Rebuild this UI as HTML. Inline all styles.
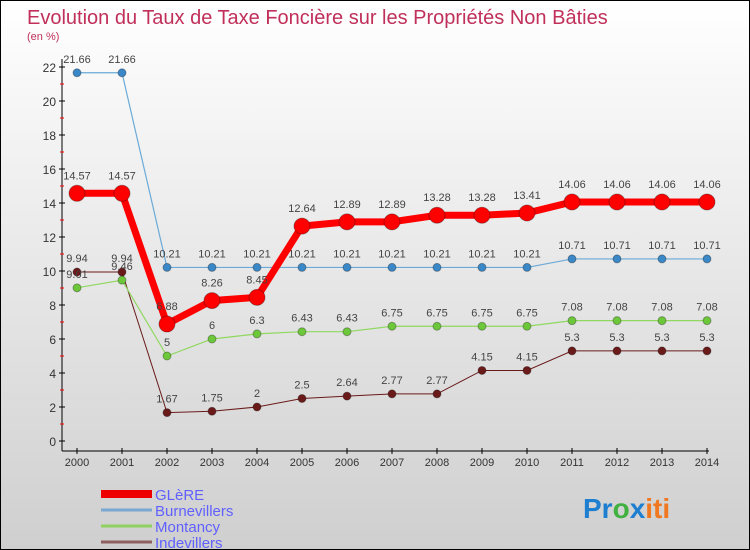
<!DOCTYPE html>
<html><head><meta charset="utf-8"><style>
body{margin:0}
#c{width:750px;height:550px;position:relative;box-sizing:border-box;border:1px solid #000;background:linear-gradient(#fff,#cfcfcf);font-family:"Liberation Sans",sans-serif;overflow:hidden}
</style></head><body>
<div id="c">
<svg width="750" height="550" id="s" style="position:absolute;left:0;top:0">
<text x="26" y="23" font-size="20" fill="#c0305a">Evolution du Taux de Taxe Foncière sur les Propriétés Non Bâties</text>
<text x="26" y="39" font-size="11" fill="#c0305a">(en %)</text>
<g id="axes"></g><g id="series"></g><g id="legend"></g>
<text x="582" y="517" font-size="28" font-weight="bold"><tspan fill="#1e7fd0">Pr</tspan><tspan fill="#40b040">o</tspan><tspan fill="#1e7fd0">x</tspan><tspan fill="#f07820">iti</tspan></text>
</svg>
</div>
<script>
const years=[2000,2001,2002,2003,2004,2005,2006,2007,2008,2009,2010,2011,2012,2013,2014];
const glere=[14.57,14.57,6.88,8.26,8.45,12.64,12.89,12.89,13.28,13.28,13.41,14.06,14.06,14.06,14.06];
const burn=[21.66,21.66,10.21,10.21,10.21,10.21,10.21,10.21,10.21,10.21,10.21,10.71,10.71,10.71,10.71];
const mont=[9.01,9.46,5,6,6.3,6.43,6.43,6.75,6.75,6.75,6.75,7.08,7.08,7.08,7.08];
const inde=[9.94,9.94,1.67,1.75,2,2.5,2.64,2.77,2.77,4.15,4.15,5.3,5.3,5.3,5.3];
const yTicks=[0,2,4,6,8,10,12,14,16,18,20,22];
const names=["GLèRE","Burnevillers","Montancy","Indevillers"];
const NS="http://www.w3.org/2000/svg";
const X=i=>76+i*45, Y=v=>440-v*17;
function mk(t,a,p){const e=document.createElementNS(NS,t);for(const k in a)e.setAttribute(k,a[k]);p.appendChild(e);return e;}
const ax=document.getElementById('axes');
let l=mk('line',{x1:61,y1:58,x2:61,y2:450,stroke:'#000'},ax);

l=mk('line',{x1:61,y1:450,x2:708,y2:450,stroke:'#000'},ax);

yTicks.forEach(v=>{mk('line',{x1:58,x2:64,y1:Y(v),y2:Y(v),stroke:'#000'},ax);
if(v<22)mk('line',{x1:59,x2:63,y1:Y(v+1),y2:Y(v+1),stroke:'#f00'},ax);
const t=mk('text',{x:55,y:Y(v)+5,'text-anchor':'end','font-size':12,fill:'#333'},ax);t.textContent=v;
});
years.forEach((y,i)=>{mk('line',{x1:X(i),x2:X(i),y1:447,y2:453,stroke:'#000'},ax);
const t=mk('text',{x:X(i),y:465,'text-anchor':'middle','font-size':11,fill:'#333'},ax);t.textContent=y;
});
const sg=document.getElementById('series');
const defs=[[inde,'#6b1a1a','#6b1a1a',1,4,'indevillers'],[mont,'#90d860','#6cc83a',1.2,4,'montancy'],[burn,'#6aaad8','#3a88c8',1.2,4,'burnevillers'],[glere,'#ff0000','#ff0000',7,8,'glere']];
defs.forEach(([d,lc,pc,w,r,n])=>{
const p=mk('polyline',{points:d.map((v,i)=>X(i)+','+Y(v)).join(' '),fill:'none',stroke:lc,'stroke-width':w},sg);

d.forEach((v,i)=>{const c=mk('circle',{cx:X(i),cy:Y(v),r:r,fill:pc,stroke:'rgba(0,0,0,0.3)'},sg);

const t=mk('text',{x:X(i),y:Y(v)-(r+6),'text-anchor':'middle','font-size':11,fill:'#444'},sg);t.textContent=v;
});});
const lg=document.getElementById('legend');
const lcol=['#ee0000','#7aa8d0','#90d060','#906060'],lw=[8,3,3,3];
names.forEach((n,i)=>{const y=493+i*16;
const ln=mk('line',{x1:100,x2:151,y1:y,y2:y,stroke:lcol[i],'stroke-width':lw[i]},lg);

const t=mk('text',{x:154,y:y+6,'font-size':15,fill:'#6060ff'},lg);t.textContent=n;
});
</script>
</body></html>
